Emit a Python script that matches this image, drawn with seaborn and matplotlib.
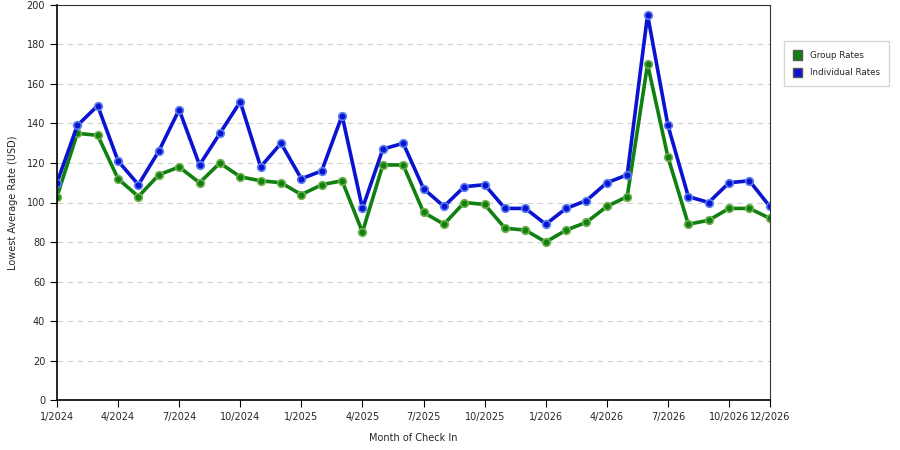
import seaborn as sns
import matplotlib.pyplot as plt
import matplotlib.patches as mpatches
import pandas as pd

# monthly values, 1/2024 .. 12/2026
months = [f"{m}/{y}" for y in (2024, 2025, 2026) for m in range(1, 13)]
group_rates = [103, 135, 134, 112, 103, 114, 118, 110, 120, 113, 111, 110,
               104, 109, 111, 85, 119, 119, 95, 89, 100, 99, 87, 86,
               80, 86, 90, 98, 103, 170, 123, 89, 91, 97, 97, 92]
individual_rates = [110, 139, 149, 121, 109, 126, 147, 119, 135, 151, 118, 130,
                    112, 116, 144, 97, 127, 130, 107, 98, 108, 109, 97, 97,
                    89, 97, 101, 110, 114, 195, 139, 103, 100, 110, 111, 98]
tick_labels = ["1/2024", "4/2024", "7/2024", "10/2024", "1/2025", "4/2025",
               "7/2025", "10/2025", "1/2026", "4/2026", "7/2026", "10/2026",
               "12/2026"]

df = pd.DataFrame({"idx": list(range(len(months))), "month": months,
                   "Group Rates": group_rates,
                   "Individual Rates": individual_rates})
long = df.melt(id_vars=["idx", "month"], var_name="series", value_name="rate")

sns.set_style("white")
plt.rcParams.update({'font.family': ['DejaVu Sans'], 'font.size': 7})

fig = plt.figure(figsize=(9, 4.5), dpi=100)
ax = fig.add_axes([0.0633, 0.111, 0.792, 0.878])

colors = {"Group Rates": "#108010", "Individual Rates": "#0a14d0"}
edges = {"Group Rates": "#6fb04f", "Individual Rates": "#5a7ff0"}
for name in ["Group Rates", "Individual Rates"]:
    sub = long[long.series == name]
    sns.lineplot(data=sub, x="idx", y="rate", ax=ax, color=colors[name],
                 linewidth=2.6, marker="o", markersize=5.5,
                 markerfacecolor=colors[name], markeredgecolor=edges[name],
                 markeredgewidth=1.2, legend=False)

ax.set_xlim(0, len(months) - 1)
ax.set_ylim(0, 200)
ax.set_yticks(range(0, 201, 20))
tick_pos = [months.index(t) for t in tick_labels]
ax.set_xticks(tick_pos)
ax.set_xticklabels(tick_labels)
ax.yaxis.grid(True, linestyle=(0, (5, 4)), color="#d0d0d0", linewidth=0.8)
ax.xaxis.grid(False)
ax.tick_params(axis="both", direction="out", length=5, width=0.8,
               color="black", labelsize=7, left=True, bottom=True)
for s in ["left", "bottom"]:
    ax.spines[s].set_color("black")
    ax.spines[s].set_linewidth(1.2)
for s in ["top", "right"]:
    ax.spines[s].set_color("#333333")
    ax.spines[s].set_linewidth(0.8)
ax.set_xlabel("Month of Check In", fontsize=7, labelpad=8)
ax.set_ylabel("Lowest Average Rate (USD)", fontsize=7, labelpad=6)

handles = [mpatches.Patch(facecolor=colors[n], edgecolor="#555555", label=n)
           for n in ["Group Rates", "Individual Rates"]]
fig.legend(handles=handles, loc="upper left", bbox_to_anchor=(0.866, 0.918),
           frameon=True, fancybox=False, edgecolor="#cccccc", fontsize=6.3,
           handlelength=1.1, handleheight=1.3, handletextpad=0.9,
           borderpad=1.0, labelspacing=0.9)

fig.savefig("out.png", dpi=100)
